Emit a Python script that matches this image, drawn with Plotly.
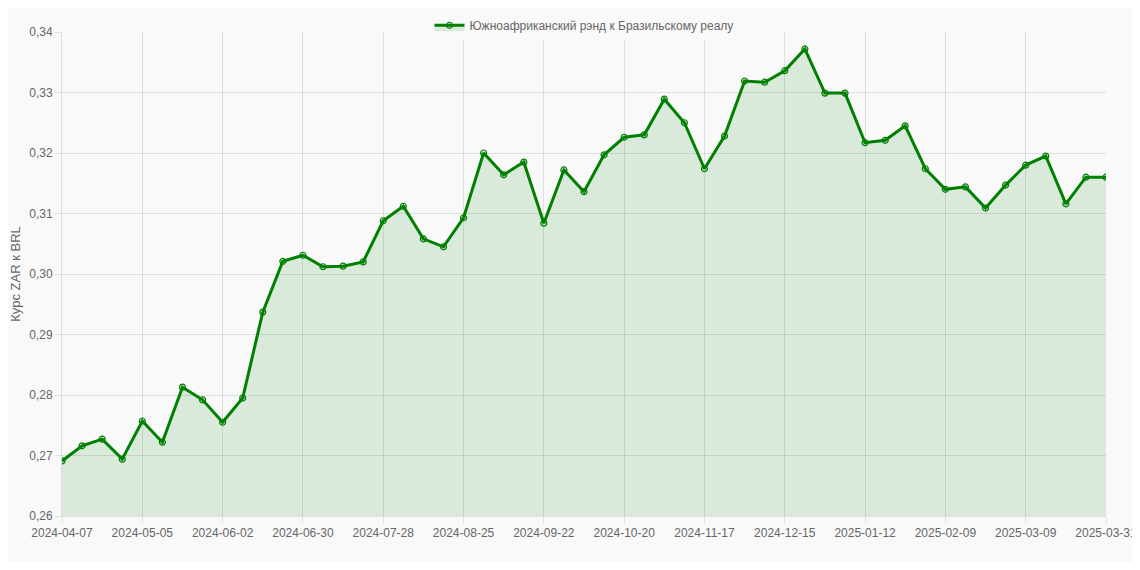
import datetime as dt
import plotly.graph_objects as go

start = dt.date(2024, 4, 7)
dates = [(start + dt.timedelta(weeks=i)).isoformat() for i in range(52)] + ["2025-03-31"]

rates = [
    0.2691, 0.2716, 0.2727, 0.2694, 0.2757, 0.2722, 0.2813, 0.2792, 0.2755, 0.2795,
    0.2937, 0.3021, 0.3031, 0.3012, 0.3013, 0.3020, 0.3088, 0.3112, 0.3058, 0.3045,
    0.3093, 0.3200, 0.3164, 0.3185, 0.3084, 0.3172, 0.3136, 0.3197, 0.3226, 0.3230,
    0.3289, 0.3250, 0.3174, 0.3228, 0.3319, 0.3317, 0.3336, 0.3372, 0.3299, 0.3299,
    0.3217, 0.3221, 0.3245, 0.3174, 0.3140, 0.3144, 0.3109, 0.3147, 0.3180, 0.3195,
    0.3116, 0.3160, 0.3160,
]

tick_dates = dates[::4] + [dates[-1]]

fig = go.Figure()
fig.add_trace(go.Scatter(
    x=dates,
    y=rates,
    mode="lines+markers",
    name="Южноафриканский рэнд к Бразильскому реалу",
    line=dict(color="#008000", width=3),
    marker=dict(size=6, color="rgba(0,128,0,0.15)", line=dict(color="#008000", width=1.2)),
    fill="tozeroy",
    fillcolor="rgba(0,128,0,0.12)",
))

# page body adds ~8px padding, so shrink the figure to match the reference frame
fig.update_layout(
    width=1124,
    height=554,
    margin=dict(l=54, r=26, t=24, b=46, autoexpand=False),
    paper_bgcolor="#f9f9f9",
    plot_bgcolor="#f9f9f9",
    separators=", ",
    font=dict(family="Liberation Sans, Arial", size=12, color="#666"),
    showlegend=True,
    legend=dict(orientation="h", x=0.5, xanchor="center", yref="container", y=0.995, yanchor="top",
                font=dict(size=12, color="#666")),
)
fig.update_xaxes(
    type="category",
    range=[0, len(dates) - 1],
    tickmode="array",
    tickvals=tick_dates,
    ticktext=tick_dates,
    tickangle=0,
    automargin=False,
    showgrid=True,
    gridcolor="rgba(0,0,0,0.1)",
    ticks="outside",
    tickcolor="rgba(0,0,0,0.1)",
    ticklen=6,
    showline=True,
    linecolor="rgba(0,0,0,0.1)",
)
fig.update_yaxes(
    range=[0.26, 0.34],
    dtick=0.01,
    tickformat=".2f",
    automargin=False,
    title=dict(text="Курс ZAR к BRL", font=dict(size=13, color="#666"), standoff=8),
    showgrid=True,
    gridcolor="rgba(0,0,0,0.1)",
    ticks="outside",
    tickcolor="rgba(0,0,0,0.1)",
    ticklen=6,
    showline=True,
    linecolor="rgba(0,0,0,0.1)",
    zeroline=False,
)

fig.write_html("out.html")
